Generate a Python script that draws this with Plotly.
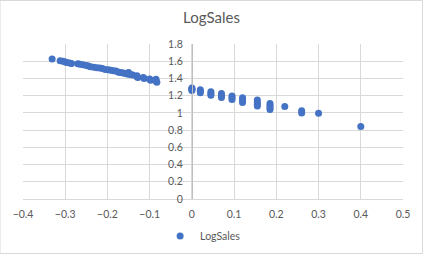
import plotly.graph_objects as go

left_x = [-0.331, -0.312, -0.305, -0.300, -0.296, -0.290, -0.285, -0.270, -0.265, -0.258,
          -0.250, -0.245, -0.240, -0.232, -0.225, -0.218, -0.212, -0.205, -0.198, -0.192,
          -0.186, -0.180, -0.175, -0.170, -0.165, -0.160, -0.155, -0.150, -0.145, -0.140,
          -0.130, -0.128, -0.115, -0.113, -0.100, -0.098, -0.085, -0.085, -0.083, -0.150, -0.130]
left_y = [1.625, 1.605, 1.600, 1.590, 1.585, 1.580, 1.575, 1.570, 1.565, 1.558,
          1.550, 1.545, 1.535, 1.530, 1.525, 1.520, 1.515, 1.505, 1.500, 1.495,
          1.490, 1.485, 1.475, 1.470, 1.465, 1.460, 1.455, 1.450, 1.445, 1.440,
          1.430, 1.410, 1.410, 1.400, 1.395, 1.380, 1.390, 1.370, 1.355, 1.470, 1.420]

right_x = [0, 0, 0, 0,
           0.02, 0.02, 0.02,
           0.045, 0.045, 0.045,
           0.07, 0.07, 0.07,
           0.095, 0.095, 0.095,
           0.12, 0.12, 0.12,
           0.155, 0.155, 0.155, 0.155,
           0.185, 0.185, 0.185, 0.185,
           0.22,
           0.26, 0.26,
           0.30,
           0.40]
right_y = [1.29, 1.28, 1.27, 1.26,
           1.27, 1.25, 1.235,
           1.245, 1.225, 1.205,
           1.225, 1.20, 1.18,
           1.195, 1.175, 1.155,
           1.175, 1.15, 1.12,
           1.15, 1.125, 1.10, 1.08,
           1.11, 1.085, 1.06, 1.04,
           1.075,
           1.025, 1.0,
           0.997,
           0.843]

x_vals = left_x + right_x
y_vals = left_y + right_y

FONT = "Lato"
GRID = "#d9d9d9"
TXT = "#595959"

fig = go.Figure()
fig.add_trace(go.Scatter(
    x=x_vals, y=y_vals, mode="markers", name="LogSales",
    marker=dict(color="#4472C4", size=7, line=dict(width=0)),
))

fig.update_layout(
    width=423, height=254,
    margin=dict(l=23, r=20, t=44, b=55, autoexpand=False),
    paper_bgcolor="white", plot_bgcolor="white",
    font=dict(family=FONT, size=10.5, color=TXT),
    title=dict(text="LogSales", x=0.5, xanchor="center", y=0.93, yanchor="middle",
               font=dict(family=FONT, size=15, color=TXT)),
    showlegend=True,
    legend=dict(orientation="h", x=0.474, xanchor="center", y=-0.239, yanchor="middle",
                font=dict(family=FONT, size=10.5, color=TXT), itemwidth=30),
    xaxis=dict(range=[-0.4, 0.5], dtick=0.1, tick0=-0.4, showgrid=True, gridcolor=GRID,
               gridwidth=1, zeroline=False, showline=True, linecolor=GRID,
               ticks="", ticklabelstandoff=5, tickfont=dict(size=10.5, color=TXT)),
    yaxis=dict(range=[0, 1.8], dtick=0.2, showgrid=True, gridcolor=GRID, gridwidth=1,
               zeroline=False, showline=True, linecolor="#bfbfbf", anchor="free",
               position=0.4 / 0.9, ticks="", ticklabelstandoff=7,
               tickfont=dict(size=10.5, color=TXT)),
)

fig.add_shape(type="rect", xref="paper", yref="paper",
              x0=-23 / 380, x1=(422.5 - 23) / 380,
              y0=(155 - 254 + 44 + 0.5) / 155, y1=(155 + 44 - 0.5) / 155,
              line=dict(color="#d9d9d9", width=1), fillcolor="rgba(0,0,0,0)", layer="below")

fig.write_html("out.html")
